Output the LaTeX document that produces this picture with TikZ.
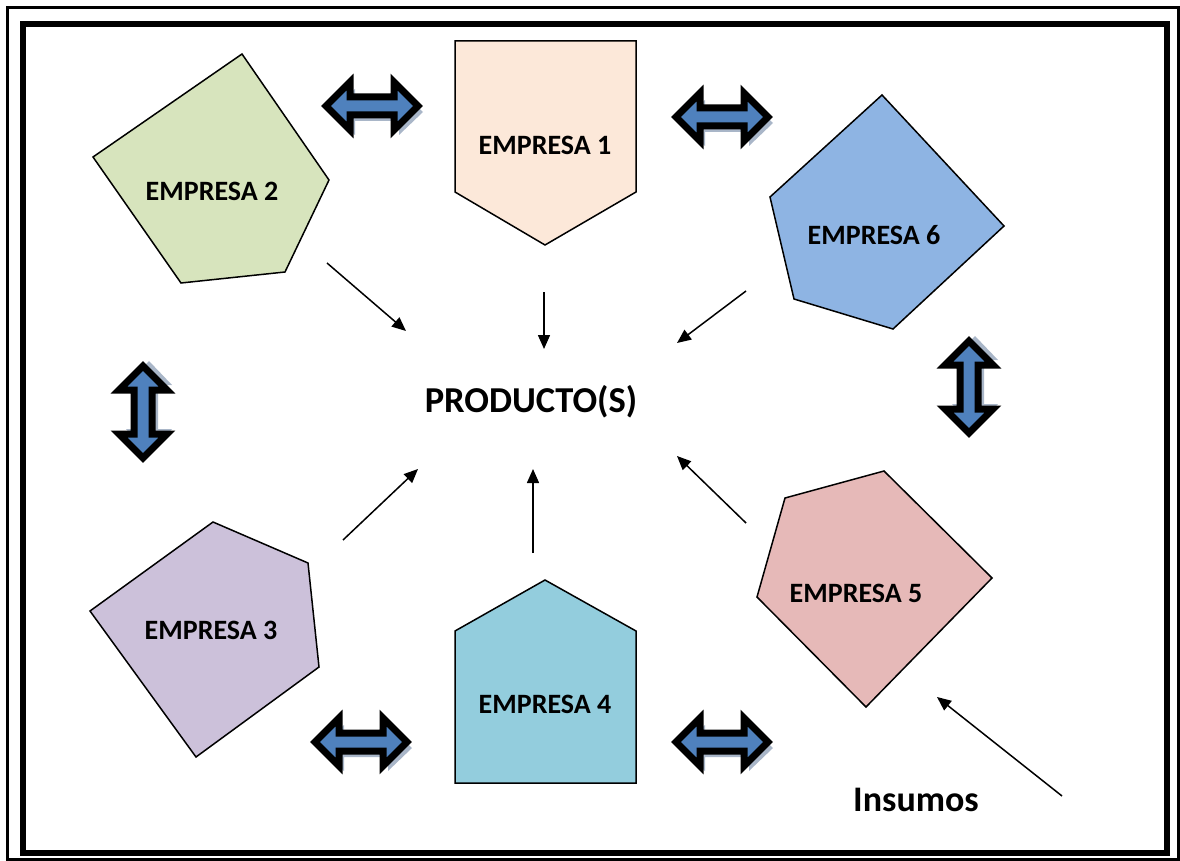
\documentclass[tikz,border=0pt]{standalone}
\usepackage{fontspec}
\setmainfont{Carlito}
\usetikzlibrary{arrows.meta}
\definecolor{cE1}{HTML}{FCE8D9}
\definecolor{cE2}{HTML}{D7E4BD}
\definecolor{cE3}{HTML}{CCC1DA}
\definecolor{cE4}{HTML}{93CDDD}
\definecolor{cE5}{HTML}{E6B9B8}
\definecolor{cE6}{HTML}{8EB4E3}
\definecolor{arrblue}{HTML}{4F81BD}
\definecolor{shadowc}{HTML}{A9B6C8}
\tikzset{
  firm/.style={draw=black, line width=1.5pt, line join=miter},
  firmlabel/.style={font=\bfseries\fontsize{28}{32}\selectfont, inner sep=0pt},
  flow/.style={line width=1.5pt, -{Triangle[length=14pt,width=12pt]}},
  dblarrow/.pic={
    \fill[shadowc] (-46+5,0+6) -- (-22+5,-23+6) -- (-22+5,-9+6) -- (22+5,-9+6) -- (22+5,-23+6) -- (46+5,0+6)
      -- (22+5,23+6) -- (22+5,9+6) -- (-22+5,9+6) -- (-22+5,23+6) -- cycle;
    \filldraw[fill=arrblue, draw=black, line width=7pt, line join=miter, miter limit=3]
      (-46,0) -- (-22,-24) -- (-22,-9) -- (22,-9) -- (22,-24) -- (46,0)
      -- (22,24) -- (22,9) -- (-22,9) -- (-22,24) -- cycle;
  }
}
\begin{document}
\begin{tikzpicture}[x=1pt,y=-1pt]
\useasboundingbox (0,0) rectangle (1180,861);
% frame
\draw[line width=3pt] (7,7.5) rectangle (1178.5,859.5);
\draw[line width=6pt] (23,24) rectangle (1166.5,853);

% firms
\draw[firm, fill=cE1] (455,41) -- (636,41) -- (636,192) -- (545,245) -- (455,192) -- cycle;
\draw[firm, fill=cE2] (242,54) -- (329,180) -- (285,272) -- (181,283) -- (93,157) -- cycle;
\draw[firm, fill=cE6] (882,95) -- (1004,226) -- (893,329) -- (794,299) -- (770,197) -- cycle;
\draw[firm, fill=cE3] (213,522) -- (308,563) -- (319,667) -- (196,757) -- (90,611) -- cycle;
\draw[firm, fill=cE4] (545,580) -- (636,631) -- (636,783) -- (455,783) -- (455,631) -- cycle;
\draw[firm, fill=cE5] (785,498) -- (884,471) -- (992,578) -- (866,707) -- (757,597) -- cycle;

\node[firmlabel] (e1) at (545,145) {EMPRESA 1};
\node[firmlabel] (e2) at (212,191) {EMPRESA 2};
\node[firmlabel] (e6) at (874,235) {EMPRESA 6};
\node[firmlabel] (e3) at (211,630) {EMPRESA 3};
\node[firmlabel] (e4) at (545,704) {EMPRESA 4};
\node[firmlabel] (e5) at (856,593) {EMPRESA 5};

\node[font=\bfseries\fontsize{36.5}{40}\selectfont, inner sep=0pt] (prod) at (531,402) {PRODUCTO(S)};
\node[font=\bfseries\fontsize{36}{40}\selectfont, inner sep=0pt] (ins) at (916,800) {Insumos};

% double arrows
\pic at (372,106) {dblarrow};
\pic at (722,117) {dblarrow};
\pic at (361,742) {dblarrow};
\pic at (722,742) {dblarrow};
\pic[rotate=90] at (143,412) {dblarrow};
\pic[rotate=90] at (969,387) {dblarrow};

% flow connectors
\coordinate (a1s) at (327,263); \coordinate (a1e) at (406,331);
\coordinate (a2s) at (544,292); \coordinate (a2e) at (544,349);
\coordinate (a3s) at (746,291); \coordinate (a3e) at (677,343);
\coordinate (a4s) at (343,540); \coordinate (a4e) at (418,469);
\coordinate (a5s) at (533,553); \coordinate (a5e) at (533,469);
\coordinate (a6s) at (746,523); \coordinate (a6e) at (677,456);
\coordinate (a7s) at (1062,796); \coordinate (a7e) at (937,697);
\draw[flow] (a1s) -- (a1e);
\draw[flow] (a2s) -- (a2e);
\draw[flow] (a3s) -- (a3e);
\draw[flow] (a4s) -- (a4e);
\draw[flow] (a5s) -- (a5e);
\draw[flow] (a6s) -- (a6e);
\draw[flow] (a7s) -- (a7e);
\end{tikzpicture}
\end{document}
